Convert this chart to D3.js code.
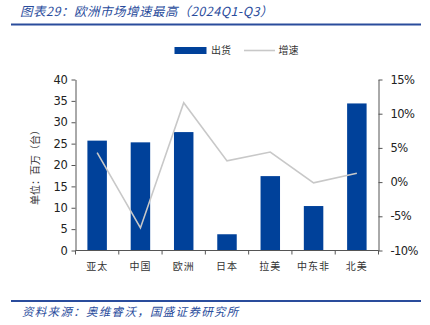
<!DOCTYPE html>
<html>
<head>
<meta charset="utf-8">
<script src="https://cdn.jsdelivr.net/npm/d3@7/dist/d3.min.js"></script>
<style>
html,body{margin:0;padding:0;background:#fff;}
svg{display:block;}
</style>
</head>
<body>
<svg id="chart" width="430" height="325"></svg>
<script>
const categories = ["亚太","中国","欧洲","日本","拉美","中东非","北美"];
const shipments = [25.7, 25.3, 27.7, 3.8, 17.4, 10.4, 34.4];
const growth = [4.3, -6.7, 11.6, 3.1, 4.4, -0.1, 1.3];
const leftTicks = [0,5,10,15,20,25,30,35,40];
const rightTicks = [-10,-5,0,5,10,15];
const titleText = "图表29：欧洲市场增速最高（2024Q1-Q3）";
const sourceText = "资料来源：奥维睿沃，国盛证券研究所";
const yTitle = "单位：百万（台）";
const legendLabels = ["出货","增速"];

const svg = d3.select("#chart");
const blue = "#00419a";
const headBlue = "#2a4c9c";
const axisColor = "#555";
const cjk = "'Noto Sans CJK SC', sans-serif";
const num = "'DejaVu Sans', sans-serif";

const L = 75.5, R = 378.5, T = 79.5, B = 250.5;

// header
svg.append("text").attr("x", 20).attr("y", 15.5)
  .attr("font-family", cjk).attr("font-size", 12.5).attr("font-style", "italic")
  .attr("letter-spacing", 0.5)
  .attr("fill", headBlue).text(titleText);
svg.append("line").attr("x1", 11).attr("x2", 421).attr("y1", 24.5).attr("y2", 24.5)
  .attr("stroke", headBlue).attr("stroke-width", 2);
svg.append("line").attr("x1", 11).attr("x2", 421).attr("y1", 301).attr("y2", 301)
  .attr("stroke", headBlue).attr("stroke-width", 2);
svg.append("text").attr("x", 22).attr("y", 316)
  .attr("font-family", cjk).attr("font-size", 11.5).attr("font-style", "italic")
  .attr("letter-spacing", 1.3)
  .attr("fill", headBlue).text(sourceText);

const x = d3.scaleBand().domain(categories).range([L, R]).paddingInner(0.55).paddingOuter(0.275);
const y = d3.scaleLinear().domain([0, 40]).range([B, T]);
const y2 = d3.scaleLinear().domain([-10, 15]).range([B, T]);

// bars
svg.append("g").selectAll("rect").data(categories).join("rect")
  .attr("x", d => x(d)).attr("width", x.bandwidth())
  .attr("y", (d, i) => y(shipments[i])).attr("height", (d, i) => y(0) - y(shipments[i]))
  .attr("fill", blue);

// line
const line = d3.line().x((d, i) => x(categories[i]) + x.bandwidth() / 2).y(d => y2(d));
svg.append("path").datum(growth).attr("d", line)
  .attr("fill", "none").attr("stroke", "#c8c8c8").attr("stroke-width", 1.6);

// left axis
const ga = svg.append("g").attr("transform", `translate(${L},0)`)
  .call(d3.axisLeft(y).tickValues(leftTicks).tickSize(4).tickSizeOuter(0).tickPadding(4));
ga.selectAll("text").attr("font-family", num).attr("font-size", 11.5).attr("fill", "#222").attr("letter-spacing", -0.3);
ga.selectAll("line,path").attr("stroke", axisColor);

// right axis
const gb = svg.append("g").attr("transform", `translate(${R},0)`)
  .call(d3.axisRight(y2).tickValues(rightTicks).tickSize(4).tickSizeOuter(0).tickPadding(8).tickFormat(d => d + "%"));
gb.selectAll("text").attr("font-family", num).attr("font-size", 11.5).attr("fill", "#222").attr("letter-spacing", -0.6);
gb.selectAll("line,path").attr("stroke", axisColor);

// bottom axis
svg.append("line").attr("x1", L).attr("x2", R).attr("y1", B).attr("y2", B).attr("stroke", axisColor);
const bounds = d3.range(categories.length + 1).map(i => x.range()[0] + i * x.step());
svg.append("g").selectAll("line").data(bounds).join("line")
  .attr("x1", d => d).attr("x2", d => d).attr("y1", B).attr("y2", B + 4).attr("stroke", axisColor);
svg.append("g").selectAll("text").data(categories).join("text")
  .attr("x", d => x(d) + x.bandwidth() / 2).attr("y", 270)
  .attr("text-anchor", "middle").attr("font-family", cjk).attr("font-size", 10).attr("fill", "#333")
  .attr("letter-spacing", 1).text(d => d);

// y title
svg.append("text").attr("transform", "translate(39,165) rotate(-90)")
  .attr("text-anchor", "middle").attr("font-family", cjk).attr("font-size", 10).attr("fill", "#333")
  .text(yTitle);

// legend
svg.append("rect").attr("x", 174.5).attr("y", 47).attr("width", 32).attr("height", 7).attr("fill", blue);
svg.append("text").attr("x", 211).attr("y", 54).attr("font-family", cjk).attr("font-size", 10).attr("fill", "#333").text(legendLabels[0]);
svg.append("line").attr("x1", 244).attr("x2", 275).attr("y1", 50.5).attr("y2", 50.5).attr("stroke", "#c8c8c8").attr("stroke-width", 1.6);
svg.append("text").attr("x", 278.5).attr("y", 54).attr("font-family", cjk).attr("font-size", 10).attr("fill", "#333").text(legendLabels[1]);
</script>
</body>
</html>
